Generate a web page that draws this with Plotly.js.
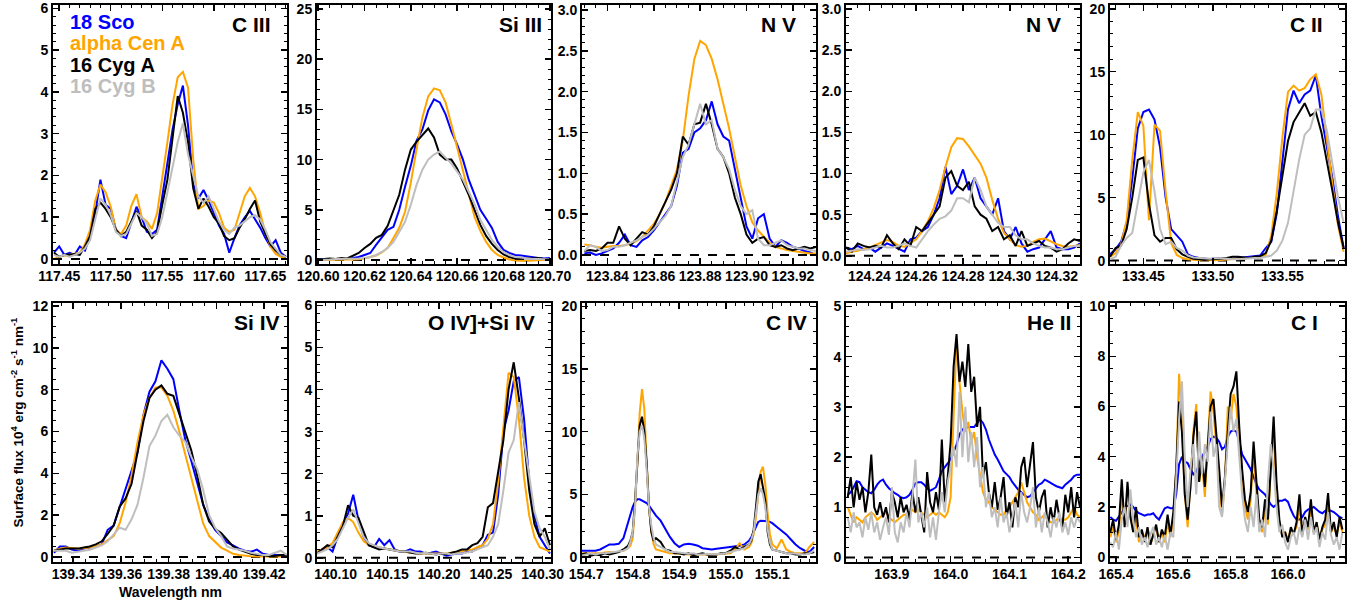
<!DOCTYPE html>
<html>
<head>
<meta charset="utf-8">
<script src="https://cdn.plot.ly/plotly-3.0.1.min.js"></script>
<style>html,body{margin:0;padding:0;background:#fff;}#chart{width:1363px;height:603px;}</style>
</head>
<body>
<div id="chart"></div>
<script>
// ---------------- series names and colours ----------------
const seriesNames = ['18 Sco', 'alpha Cen A', '16 Cyg A', '16 Cyg B'];
const seriesColors = ['#0000ff', '#ffa500', '#000000', '#bebebe'];
const lineLabels = ['C III', 'Si III', 'N V', 'N V', 'C II', 'Si IV', 'O IV]+Si IV', 'C IV', 'He II', 'C I'];

// ---------------- Panel 1: C III ----------------
const wl_CIII = [117.445,117.450,117.455,117.460,117.465,117.470,117.475,117.480,117.485,117.490,117.495,117.500,117.505,117.510,117.515,117.520,117.525,117.530,117.535,117.540,117.545,117.550,117.555,117.560,117.565,117.570,117.575,117.580,117.585,117.590,117.595,117.600,117.605,117.610,117.615,117.620,117.625,117.630,117.635,117.640,117.645,117.650,117.655,117.660,117.665,117.670];
const sco_CIII = [0.15,0.3,0.1,0.15,0.1,0.3,0.2,0.55,1.1,1.9,1.3,1.2,0.7,0.55,0.5,0.9,1.25,1.0,0.65,0.6,0.7,1.5,2.3,3.1,3.7,4.15,3.2,1.8,1.45,1.65,1.4,1.1,0.8,0.6,0.15,0.5,0.8,1.0,1.15,0.95,0.75,0.5,0.3,0.45,0.15,0.05];
const cen_CIII = [0.0,0.05,0.08,0.1,0.12,0.15,0.35,0.7,1.4,1.78,1.6,1.25,0.7,0.6,0.8,1.27,1.55,1.0,0.9,0.72,1.1,1.9,2.8,3.7,4.35,4.48,4.1,2.4,1.2,1.27,1.4,1.35,1.1,0.75,0.65,0.7,1.1,1.5,1.7,1.5,1.1,0.63,0.3,0.12,0.05,0.0];
const cygA_CIII = [0.15,0.05,0.1,0.1,0.12,0.1,0.3,0.55,1.2,1.35,1.2,1.0,0.7,0.55,0.65,0.9,1.15,0.8,0.7,0.5,0.65,1.3,1.9,2.9,3.9,3.5,2.8,1.7,1.2,1.45,1.25,1.0,0.85,0.55,0.45,0.5,0.75,0.95,1.2,1.4,0.9,0.6,0.35,0.2,0.1,0.05];
const cygB_CIII = [0.1,0.05,0.1,0.05,0.1,0.15,0.25,0.45,0.95,1.45,1.3,1.05,0.65,0.55,0.6,0.85,1.1,1.0,0.85,0.55,0.6,1.0,1.6,2.2,2.8,3.25,2.5,2.0,1.5,1.35,1.5,1.2,0.9,0.7,0.6,0.75,0.8,0.9,1.0,1.05,0.95,0.7,0.4,0.25,0.1,0.05];
const xt_CIII = [117.45,117.50,117.55,117.60,117.65];
const yt_CIII = [0,1,2,3,4,5,6];

// ---------------- Panel 2: Si III ----------------
const wl_SiIII = [120.6,120.6025,120.605,120.6075,120.61,120.6125,120.615,120.6175,120.62,120.6225,120.625,120.6275,120.63,120.6325,120.635,120.6375,120.64,120.6425,120.645,120.6475,120.65,120.6525,120.655,120.6575,120.66,120.6625,120.665,120.6675,120.67,120.6725,120.675,120.6775,120.68,120.6825,120.685,120.6875,120.69,120.6925,120.695,120.6975,120.7];
const sco_SiIII = [0.1,0.1,0.15,0.1,0.15,0.1,0.2,0.3,0.5,0.7,1.5,2.2,3.0,3.3,5.0,7.3,9.4,11.9,13.0,14.9,16.0,15.7,14.5,12.8,11.5,10.0,8.0,6.5,5.0,4.1,3.2,1.8,1.0,0.7,0.5,0.45,0.35,0.3,0.2,0.15,0.2];
const cen_SiIII = [0,0,0,0,0.02,0.03,0.05,0.08,0.15,0.3,0.45,0.75,1.2,2.2,3.2,4.8,7.7,11.1,14.2,16.3,17.1,16.9,15.7,13.5,11.2,8.7,6.3,4.3,2.9,1.8,1.0,0.5,0.25,0.05,-0.05,-0.1,-0.1,-0.05,0,0,0];
const cygA_SiIII = [0.05,0.1,0.15,0.1,0.2,0.15,0.4,0.7,1.2,1.6,2.2,2.5,3.4,5.0,6.5,9.0,11.0,11.8,12.5,13.1,12.2,10.5,10.0,10.0,9.1,7.8,6.5,5.0,3.5,2.4,1.6,1.0,0.55,0.3,0.15,0.15,0.2,0.15,0.2,0.1,0.05];
const cygB_SiIII = [0,0,0.05,0.1,0.1,0.15,0.1,0.15,0.2,0.3,0.5,0.8,1.2,1.8,2.8,3.8,5.5,7.5,9.0,10.0,10.5,10.8,10.2,9.6,8.8,8.0,6.8,5.6,4.0,3.0,2.0,1.3,0.8,0.5,0.3,0.25,0.15,0.1,0.1,0.05,0.05];
const xt_SiIII = [120.60,120.62,120.64,120.66,120.68,120.70];
const yt_SiIII = [0,5,10,15,20,25];

// ---------------- Panel 3: N V 123.88 ----------------
const wl_NV1 = [123.83,123.8325,123.835,123.8375,123.84,123.8425,123.845,123.8475,123.85,123.8525,123.855,123.8575,123.86,123.8625,123.865,123.8675,123.87,123.8725,123.875,123.8775,123.88,123.8825,123.885,123.8875,123.89,123.8925,123.895,123.8975,123.9,123.9025,123.905,123.9075,123.91,123.9125,123.915,123.9175,123.92,123.9225,123.925,123.9275,123.93];
const sco_NV1 = [0.02,0.03,0.0,0.02,0.05,0.08,0.15,0.25,0.12,0.1,0.18,0.22,0.3,0.4,0.5,0.6,0.85,1.25,1.3,1.5,1.55,1.65,1.88,1.6,1.45,1.4,1.05,0.7,0.35,0.2,0.45,0.5,0.2,0.1,0.18,0.15,0.1,0.08,0.05,0.03,0.0];
const cen_NV1 = [0.13,0.12,0.1,0.09,0.1,0.11,0.11,0.12,0.14,0.17,0.22,0.3,0.38,0.5,0.65,0.85,1.05,1.4,1.95,2.4,2.62,2.57,2.4,2.15,1.85,1.55,1.2,0.85,0.6,0.4,0.3,0.22,0.15,0.1,0.08,0.06,0.05,0.04,0.03,0.02,0.02];
const cygA_NV1 = [0.05,0.06,0.05,0.08,0.15,0.15,0.35,0.2,0.12,0.2,0.28,0.25,0.35,0.5,0.65,0.8,1.0,1.45,1.35,1.6,1.62,1.85,1.6,1.3,1.2,1.0,0.7,0.5,0.25,0.15,0.2,0.22,0.12,0.1,0.12,0.08,0.06,0.08,0.1,0.08,0.1];
const cygB_NV1 = [0.05,0.12,0.1,0.05,0.06,0.1,0.1,0.12,0.15,0.18,0.22,0.25,0.32,0.4,0.48,0.6,0.9,1.2,1.35,1.6,1.85,1.6,1.65,1.3,1.2,1.05,0.8,0.6,0.5,0.55,0.2,0.12,0.12,0.15,0.18,0.12,0.1,0.08,0.08,0.06,0.05];
const xt_NV1 = [123.84,123.86,123.88,123.90,123.92];
const yt_NV1 = [0,0.5,1,1.5,2,2.5,3];

// ---------------- Panel 4: N V 124.28 ----------------
const wl_NV2 = [124.23,124.2325,124.235,124.2375,124.24,124.2425,124.245,124.2475,124.25,124.2525,124.255,124.2575,124.26,124.2625,124.265,124.2675,124.27,124.2725,124.275,124.2775,124.28,124.2825,124.285,124.2875,124.29,124.2925,124.295,124.2975,124.3,124.3025,124.305,124.3075,124.31,124.3125,124.315,124.3175,124.32,124.3225,124.325,124.3275,124.33];
const sco_NV2 = [0.1,0.08,0.12,0.08,0.1,0.05,0.1,0.15,0.12,0.08,0.05,0.2,0.22,0.3,0.35,0.5,0.7,1.08,0.75,0.85,1.05,0.8,0.95,0.7,0.6,0.5,0.7,0.3,0.2,0.35,0.15,0.05,0.08,0.1,0.2,0.3,0.1,0.08,0.08,0.1,0.15];
const cen_NV2 = [0.03,0.05,0.06,0.08,0.1,0.13,0.16,0.19,0.17,0.12,0.11,0.15,0.2,0.3,0.42,0.58,0.8,1.08,1.32,1.43,1.42,1.33,1.23,1.12,0.95,0.68,0.45,0.28,0.2,0.13,0.11,0.12,0.17,0.2,0.21,0.17,0.14,0.12,0.11,0.12,0.13];
const cygA_NV2 = [0.1,0.05,0.15,0.12,0.1,0.12,0.1,0.25,0.15,0.08,0.2,0.12,0.35,0.3,0.4,0.5,0.6,0.95,1.03,0.85,0.8,0.9,0.6,0.5,0.45,0.3,0.35,0.2,0.25,0.12,0.3,0.12,0.15,0.18,0.12,0.1,0.05,0.08,0.15,0.2,0.18];
const cygB_NV2 = [0.05,0.06,0.08,0.07,0.08,0.1,0.12,0.1,0.1,0.12,0.15,0.12,0.1,0.2,0.3,0.38,0.45,0.48,0.55,0.7,0.7,0.65,0.95,0.8,0.6,0.5,0.4,0.35,0.35,0.25,0.2,0.2,0.15,0.12,0.1,0.1,0.08,0.08,0.1,0.12,0.12];
const xt_NV2 = [124.24,124.26,124.28,124.30,124.32];
const yt_NV2 = [0,0.5,1,1.5,2,2.5,3];

// ---------------- Panel 5: C II ----------------
const wl_CII = [133.426,133.430,133.434,133.438,133.442,133.446,133.450,133.454,133.458,133.462,133.466,133.470,133.474,133.478,133.482,133.486,133.490,133.494,133.498,133.502,133.506,133.510,133.514,133.518,133.522,133.526,133.530,133.534,133.538,133.542,133.546,133.550,133.554,133.558,133.562,133.566,133.570,133.574,133.578,133.582,133.586,133.590,133.594];
const sco_CII = [0.5,0.9,1.5,3.0,6.5,10.5,11.8,12.0,11.2,9.0,5.0,2.5,2.0,1.5,0.5,0.3,0.2,0.15,0.1,0.2,0.15,0.1,0.15,0.2,0.2,0.25,0.3,0.4,1.0,1.5,3.8,8.0,12.0,13.5,12.5,13.2,13.5,14.7,11.5,9.0,6.5,3.5,1.0];
const cen_CII = [0.3,0.6,1.3,3.2,8.0,11.8,10.7,3.2,10.8,10.3,5.5,1.4,0.45,0.2,0.1,0.05,0.03,0.02,0.02,0.03,0.05,0.08,0.1,0.12,0.15,0.2,0.25,0.3,0.45,2.0,5.4,9.8,13.4,13.9,13.5,13.7,14.4,14.8,13.2,9.5,6.0,2.8,0.7];
const cygA_CII = [0.3,1.0,1.2,2.5,5.0,8.0,8.2,4.5,2.0,1.5,1.8,1.8,0.9,0.5,0.3,0.15,0.1,0.05,0.1,0.1,0.15,0.2,0.3,0.3,0.25,0.2,0.3,0.35,0.6,1.6,4.0,6.8,9.5,11.0,11.8,12.5,11.5,11.8,10.2,8.0,5.5,3.0,1.0];
const cygB_CII = [0.1,0.3,1.2,1.8,2.2,4.5,7.0,8.0,5.5,2.5,1.3,1.5,1.0,0.8,0.4,0.25,0.2,0.2,0.15,0.2,0.15,0.1,0.1,0.1,0.15,0.15,0.2,0.2,0.3,0.4,0.8,1.6,3.0,5.5,8.0,10.0,10.5,12.0,12.0,10.3,7.5,5.0,3.0];
const xt_CII = [133.45,133.50,133.55];
const yt_CII = [0,5,10,15,20];

// ---------------- Panel 6: Si IV ----------------
const wl_SiIV = [139.332,139.3345,139.337,139.3395,139.342,139.3445,139.347,139.3495,139.352,139.3545,139.357,139.3595,139.362,139.3645,139.367,139.3695,139.372,139.3745,139.377,139.3795,139.382,139.3845,139.387,139.3895,139.392,139.3945,139.397,139.3995,139.402,139.4045,139.407,139.4095,139.412,139.4145,139.417,139.4195,139.422,139.4245,139.427,139.4295];
const sco_SiIV = [0.2,0.5,0.5,0.35,0.3,0.4,0.45,0.5,0.6,1.3,1.5,2.4,3.3,4.2,5.0,6.8,7.9,8.4,9.4,9.0,8.5,7.0,5.6,4.6,3.5,2.5,1.8,1.3,1.0,0.7,0.55,0.4,0.3,0.25,0.35,0.15,0.1,0.1,0.1,0.05];
const cen_SiIV = [0.3,0.4,0.45,0.42,0.4,0.42,0.45,0.5,0.6,0.8,1.0,1.6,2.6,3.9,5.5,6.8,7.6,8.1,8.1,7.7,7.0,6.0,4.9,3.8,2.6,1.6,1.0,0.7,0.45,0.3,0.15,0.1,0.05,0.03,0.02,0.02,0.02,0.02,0.02,0.02];
const cygA_SiIV = [0.3,0.35,0.4,0.4,0.4,0.45,0.5,0.6,0.75,1.1,1.5,2.4,2.8,3.5,5.0,6.5,7.6,8.0,8.2,7.8,7.7,6.8,6.0,5.1,3.9,2.5,1.7,1.35,1.15,0.8,0.5,0.35,0.25,0.15,0.1,0.1,0.05,0.05,0.1,0.1];
const cygB_SiIV = [0.3,0.3,0.3,0.2,0.25,0.3,0.35,0.45,0.55,0.75,1.1,1.4,1.3,1.8,2.5,3.8,5.3,5.8,6.5,6.8,6.2,5.8,5.5,4.8,4.2,3.2,2.0,1.4,1.0,0.5,0.4,0.35,0.3,0.2,0.15,0.1,0.1,0.2,0.3,0.1];
const xt_SiIV = [139.34,139.36,139.38,139.40,139.42];
const yt_SiIV = [0,2,4,6,8,10,12];

// ---------------- Panel 7: O IV] + Si IV ----------------
const wl_OIV = [140.082,140.087,140.092,140.097,140.102,140.107,140.112,140.117,140.122,140.127,140.132,140.137,140.142,140.147,140.152,140.157,140.162,140.167,140.172,140.177,140.182,140.187,140.192,140.197,140.202,140.207,140.212,140.217,140.222,140.227,140.232,140.237,140.242,140.247,140.252,140.257,140.262,140.267,140.272,140.277,140.282,140.287,140.292,140.297,140.302,140.307];
const sco_OIV = [0.1,0.2,0.25,0.15,0.5,0.8,1.05,1.5,0.9,0.5,0.3,0.25,0.45,0.3,0.42,0.2,0.15,0.15,0.2,0.15,0.15,0.1,0.12,0.15,0.1,0.05,0.08,0.1,0.1,0.15,0.15,0.25,0.3,0.55,0.6,1.5,3.0,3.5,4.2,4.3,3.3,1.8,1.0,0.5,0.3,0.1];
const cen_OIV = [0.15,0.2,0.25,0.35,0.6,0.85,0.95,0.85,0.6,0.4,0.3,0.28,0.25,0.22,0.2,0.18,0.15,0.14,0.12,0.12,0.1,0.1,0.1,0.1,0.1,0.1,0.12,0.14,0.15,0.18,0.2,0.25,0.3,0.45,0.8,1.8,3.2,4.4,4.3,3.3,1.9,1.0,0.5,0.25,0.2,0.15];
const cygA_OIV = [0.1,0.2,0.3,0.25,0.5,0.75,1.25,1.0,0.95,0.6,0.3,0.25,0.2,0.22,0.2,0.18,0.15,0.15,0.12,0.1,0.1,0.12,0.1,0.08,0.1,0.08,0.12,0.15,0.2,0.2,0.3,0.35,0.5,1.2,1.3,2.0,2.8,4.0,4.65,3.8,2.8,1.6,0.8,0.5,0.7,0.3];
const cygB_OIV = [0.1,0.15,0.2,0.3,0.45,0.7,0.95,1.15,0.8,0.5,0.35,0.3,0.25,0.22,0.2,0.18,0.15,0.15,0.15,0.12,0.1,0.12,0.1,0.08,0.1,0.1,0.08,0.1,0.1,0.12,0.15,0.2,0.25,0.3,0.5,0.8,1.6,2.5,2.8,3.7,2.8,2.0,1.1,0.7,0.5,0.2];
const xt_OIV = [140.10,140.15,140.20,140.25,140.30];
const yt_OIV = [0,1,2,3,4,5,6];

// ---------------- Panel 8: C IV ----------------
const wl_CIV = [154.69,154.70,154.71,154.72,154.73,154.74,154.75,154.76,154.77,154.78,154.79,154.795,154.80,154.805,154.81,154.815,154.82,154.825,154.83,154.835,154.84,154.845,154.85,154.86,154.87,154.88,154.89,154.90,154.91,154.92,154.93,154.94,154.95,154.96,154.97,154.98,154.99,155.00,155.01,155.02,155.03,155.04,155.05,155.055,155.06,155.065,155.07,155.075,155.08,155.085,155.09,155.095,155.10,155.11,155.12,155.13,155.14,155.15,155.16,155.17,155.18,155.19];
const sco_CIV = [0.5,0.5,0.45,0.5,0.6,0.8,1.0,1.0,1.05,1.5,2.8, 3.5,4.0,4.4,4.6,4.6,4.5,4.4,4.3,4.1,3.8,3.5,3.3, 2.9,2.2,1.6,1.1,0.8,1.0,1.05,1.0,0.9,0.7,0.65,0.6,0.65,0.7,0.75,0.8,0.8,0.9,1.0,1.3, 1.6,2.0,2.5,2.8,2.9,2.9,2.9,2.85,2.8,2.7, 2.4,2.1,1.8,1.4,1.0,0.7,0.5,0.4,0.8];
const cen_CIV = [0.3,0.3,0.25,0.3,0.3,0.35,0.4,0.35,0.4,0.5,0.7, 0.9,1.5,4.0,7.5,11.5,13.4,11.8,7.5,4.0,2.0,1.0,0.6, 0.5,0.4,0.3,0.3,0.25,0.2,0.2,0.2,0.2,0.15,0.2,0.2,0.2,0.25,0.3,0.3,0.6,1.1,0.6,0.8, 1.1,1.8,3.2,5.0,6.8,7.2,5.8,3.5,1.8,1.0, 0.7,1.4,0.6,0.4,0.3,0.3,0.3,0.8,1.2];
const cygA_CIV = [0.2,0.3,0.1,0.2,0.15,0.3,0.2,0.3,0.4,0.6,0.9, 1.3,2.0,4.5,8.0,10.5,11.2,10.0,7.5,4.0,2.0,1.3,1.5, 1.2,0.6,0.5,0.3,0.3,0.2,0.3,0.15,0.2,0.3,0.2,0.15,0.2,0.3,0.3,0.5,0.8,0.6,0.8,1.0, 1.3,2.2,4.0,6.0,6.6,5.5,4.5,2.0,1.0,0.6, 0.5,0.4,0.3,0.3,0.2,0.2,0.3,0.3,0.4];
const cygB_CIV = [0.1,0.2,0.3,0.2,0.3,0.3,0.35,0.4,0.4,0.5,0.7, 1.2,2.0,4.0,8.0,10.0,10.5,9.5,7.0,4.0,2.5,1.5,1.0, 0.8,0.6,0.4,0.4,0.35,0.3,0.25,0.3,0.2,0.2,0.25,0.2,0.2,0.25,0.3,0.4,0.5,0.6,0.7,1.0, 1.4,2.0,3.5,5.0,5.5,5.0,4.0,2.2,1.2,0.6, 0.5,0.4,0.3,0.3,0.25,0.2,0.2,0.3,0.5];
const xt_CIV = [154.7,154.8,154.9,155.0,155.1];
const yt_CIV = [0,5,10,15,20];

// ---------------- Panel 9: He II ----------------
const wl_HeII = [163.825,163.83,163.835,163.84,163.845,163.85,163.855,163.86,163.865,163.87,
  163.875,163.88,163.885,163.89,163.895,163.9,163.905,163.91,163.915,163.92,
  163.925,163.93,163.935,163.94,163.945,163.95,163.955,163.96,163.965,163.97,
  163.975,163.98,163.985,163.99,163.995,164.0,164.005,164.01,164.015,164.02,
  164.025,164.03,164.035,164.04,164.045,164.05,164.055,164.06,164.065,164.07,
  164.075,164.08,164.085,164.09,164.095,164.1,164.105,164.11,164.115,164.12,
  164.125,164.13,164.135,164.14,164.145,164.15,164.155,164.16,164.165,164.17,
  164.175,164.18,164.185,164.19,164.195,164.2,164.205,164.21,164.215,164.22];
const sco_HeII = [1.25,1.3,1.4,1.52,1.5,1.4,1.35,1.3,1.28,1.35,
  1.45,1.52,1.55,1.45,1.38,1.32,1.28,1.25,1.2,1.18,
  1.2,1.25,1.35,1.48,1.5,1.5,1.45,1.38,1.33,1.36,
  1.4,1.55,1.72,1.8,1.88,1.95,2.1,2.25,2.45,2.55,
  2.58,2.6,2.6,2.6,2.68,2.75,2.68,2.55,2.35,2.2,
  2.05,1.95,1.82,1.72,1.66,1.6,1.5,1.42,1.35,1.3,
  1.25,1.2,1.22,1.3,1.38,1.45,1.48,1.55,1.52,1.48,
  1.45,1.42,1.4,1.38,1.45,1.5,1.55,1.62,1.65,1.65];
const cen_HeII = [1.0,0.85,0.7,0.8,0.75,0.7,0.8,0.85,0.9,0.85,
  0.75,0.8,0.85,0.9,0.8,0.75,0.7,0.75,0.8,0.85,
  0.85,0.9,0.95,0.9,0.95,0.9,0.85,0.8,0.85,0.9,
  0.85,0.9,0.85,0.8,0.9,1.2,2.8,4.3,3.5,2.9,
  2.5,2.7,2.3,2.5,2.0,1.6,1.3,1.15,1.1,1.0,
  0.95,0.9,0.85,0.85,0.95,1.0,1.1,1.2,1.3,1.5,
  1.3,1.1,1.0,0.9,0.85,0.75,0.8,0.85,0.75,0.7,
  0.7,0.75,0.8,0.75,0.75,0.8,0.9,1.0,0.85,0.8];
const cygA_HeII = [1.2,1.6,1.0,1.5,1.15,1.4,0.9,1.3,2.05,1.0,
  0.85,1.1,0.8,1.0,0.7,1.3,1.1,0.8,1.2,0.9,
  1.05,0.75,1.3,0.9,1.2,0.8,0.5,1.7,1.1,0.9,
  1.3,0.95,2.35,1.1,1.6,2.3,3.8,4.45,3.5,3.9,
  3.4,4.25,3.3,3.6,2.6,3.0,1.6,1.9,1.3,1.0,
  1.5,0.95,1.2,1.6,0.8,1.1,0.6,1.2,1.0,1.8,
  2.0,1.4,1.9,2.3,1.2,0.9,1.2,1.35,0.6,1.0,
  0.7,1.15,0.8,0.6,1.25,0.9,1.4,0.8,1.3,1.0];
const cygB_HeII = [0.8,0.5,0.9,0.6,0.7,0.4,0.8,0.55,0.9,0.5,
  0.7,0.35,0.6,0.8,0.45,1.4,0.5,0.3,0.7,0.5,
  0.9,0.6,1.2,1.95,0.7,0.9,0.6,1.0,0.4,0.8,
  0.35,0.9,1.3,0.9,1.5,1.8,2.2,1.8,3.3,2.0,
  3.0,1.9,2.5,1.8,2.4,1.4,1.8,1.0,1.3,0.8,
  1.0,0.6,1.2,0.7,0.9,0.5,0.8,1.1,0.6,1.3,
  0.9,0.7,1.0,1.4,0.6,1.0,0.5,0.9,0.7,0.4,
  0.8,0.6,0.9,0.5,0.7,0.45,0.8,0.6,0.8,0.7];
const xt_HeII = [163.9,164.0,164.1,164.2];
const yt_HeII = [0,1,2,3,4,5];

// ---------------- Panel 10: C I ----------------
const wl_CI = [165.38,165.39,165.40,165.41,165.42,165.43,165.44,165.45,165.46,165.47,
  165.48,165.49,165.50,165.51,165.52,165.53,165.54,165.55,165.56,165.57,
  165.58,165.59,165.60,165.61,165.62,165.63,165.64,165.65,165.66,165.67,
  165.68,165.69,165.70,165.71,165.72,165.73,165.74,165.75,165.76,165.77,
  165.78,165.79,165.80,165.81,165.82,165.83,165.84,165.85,165.86,165.87,
  165.88,165.89,165.90,165.91,165.92,165.93,165.94,165.95,165.96,165.97,
  165.98,165.99,166.00,166.01,166.02,166.03,166.04,166.05,166.06,166.07,
  166.08,166.09,166.10,166.11,166.12,166.13,166.14,166.15,166.16,166.17,
  166.18,166.19];
const sco_CI = [1.6,1.5,1.45,1.6,1.8,1.95,2.05,2.1,2.0,1.85,
  1.75,1.7,1.65,1.7,1.7,1.75,1.6,1.5,1.7,1.95,
  2.0,1.95,1.95,2.5,3.7,4.0,3.8,3.75,3.5,3.3,
  3.4,3.7,4.0,4.2,4.4,4.7,4.8,4.75,4.6,4.3,
  4.4,4.8,5.0,5.05,5.0,4.6,4.1,3.9,3.7,3.5,
  3.2,2.9,2.7,2.6,2.5,2.3,2.1,2.0,2.1,2.25,
  2.25,2.3,2.2,1.9,1.65,1.5,1.5,1.6,1.8,1.9,
  1.95,2.0,1.9,1.8,1.75,1.85,1.9,1.85,1.8,1.7,
  1.6,1.55];
const cen_CI = [0.8,1.2,0.6,1.0,2.5,1.5,2.5,1.8,1.0,1.5,
  0.6,1.0,0.8,1.0,0.5,0.9,1.2,0.6,1.0,0.6,
  1.4,0.8,1.5,3.5,7.3,5.5,2.5,1.2,3.0,5.0,
  6.1,3.0,3.8,2.4,4.5,6.6,5.8,4.5,3.0,1.7,
  3.0,6.0,5.5,6.5,6.0,4.3,3.0,2.0,1.5,2.3,
  4.3,2.5,1.4,1.0,2.0,1.3,3.5,5.0,2.6,1.3,
  0.9,1.0,0.7,1.1,1.0,1.2,2.0,1.0,1.4,1.1,
  2.0,1.0,1.3,0.8,1.1,1.3,2.2,1.0,1.2,0.9,
  1.4,1.0];
const cygA_CI = [1.0,1.5,0.7,1.3,3.1,1.2,3.0,1.6,1.0,2.0,
  0.8,1.1,0.6,1.2,0.5,0.9,1.3,0.6,1.1,0.8,
  1.7,0.9,1.8,3.5,6.2,5.0,2.5,1.5,2.8,4.8,
  5.8,3.0,4.0,2.8,4.5,6.0,6.3,5.0,3.5,2.0,
  3.2,5.0,6.5,6.8,7.4,5.2,3.5,2.3,1.8,2.6,
  4.6,3.0,1.5,1.2,2.3,1.5,3.8,5.6,3.0,1.5,
  0.8,1.0,0.6,1.2,0.9,1.4,2.5,0.9,1.6,1.2,
  2.3,1.0,1.4,0.7,1.2,1.5,2.55,1.0,1.4,0.8,
  1.6,1.1];
const cygB_CI = [0.6,0.4,1.0,0.3,1.5,2.0,1.2,2.7,1.5,0.8,
  1.2,0.5,0.8,0.4,0.9,1.2,0.5,0.8,0.4,0.9,
  0.3,1.0,0.8,3.0,5.5,7.0,4.0,2.0,3.5,4.5,
  2.5,5.0,3.3,4.5,3.8,5.8,4.0,4.5,2.0,1.6,
  3.0,4.5,6.0,5.0,5.5,4.0,2.5,1.5,1.0,2.0,
  1.2,2.5,1.0,1.5,0.8,3.0,4.5,3.5,2.0,1.0,
  1.3,0.6,0.3,0.8,1.0,0.5,1.2,0.8,1.5,0.7,
  1.6,0.9,1.2,0.4,1.0,0.7,1.8,0.9,0.5,0.8,
  0.3,1.0];
const xt_CI = [165.4,165.6,165.8,166.0];
const yt_CI = [0,2,4,6,8,10];

// ---------------- assemble panels ----------------
const panelData = [
  {wl: wl_CIII, ys: [sco_CIII, cen_CIII, cygA_CIII, cygB_CIII], xt: xt_CIII, yt: yt_CIII},
  {wl: wl_SiIII, ys: [sco_SiIII, cen_SiIII, cygA_SiIII, cygB_SiIII], xt: xt_SiIII, yt: yt_SiIII},
  {wl: wl_NV1, ys: [sco_NV1, cen_NV1, cygA_NV1, cygB_NV1], xt: xt_NV1, yt: yt_NV1},
  {wl: wl_NV2, ys: [sco_NV2, cen_NV2, cygA_NV2, cygB_NV2], xt: xt_NV2, yt: yt_NV2},
  {wl: wl_CII, ys: [sco_CII, cen_CII, cygA_CII, cygB_CII], xt: xt_CII, yt: yt_CII},
  {wl: wl_SiIV, ys: [sco_SiIV, cen_SiIV, cygA_SiIV, cygB_SiIV], xt: xt_SiIV, yt: yt_SiIV},
  {wl: wl_OIV, ys: [sco_OIV, cen_OIV, cygA_OIV, cygB_OIV], xt: xt_OIV, yt: yt_OIV},
  {wl: wl_CIV, ys: [sco_CIV, cen_CIV, cygA_CIV, cygB_CIV], xt: xt_CIV, yt: yt_CIV},
  {wl: wl_HeII, ys: [sco_HeII, cen_HeII, cygA_HeII, cygB_HeII], xt: xt_HeII, yt: yt_HeII},
  {wl: wl_CI, ys: [sco_CI, cen_CI, cygA_CI, cygB_CI], xt: xt_CI, yt: yt_CI}
];

// layout / style settings for each panel (ranges, decimals, minor tick spacing, label placement)
const panelStyle = [
  {xr:[117.444,117.671], yr:[-0.12,6.08], xdec:2, ydec:0, xm:0.01,  ym:0.2, lx:0.94},
  {xr:[120.5995,120.7005], yr:[-0.4,25.4], xdec:2, ydec:0, xm:0.005, ym:1,   lx:0.97},
  {xr:[123.829,123.930], yr:[-0.11,3.06], xdec:2, ydec:1, xm:0.005, ym:0.1, lx:0.923},
  {xr:[124.230,124.330], yr:[-0.1,3.05],  xdec:2, ydec:1, xm:0.005, ym:0.1, lx:0.927},
  {xr:[133.426,133.595], yr:[-0.27,20.3], xdec:2, ydec:0, xm:0.01,  ym:1,   lx:0.915},
  {xr:[139.3316,139.4296], yr:[-0.24,12.14], xdec:2, ydec:0, xm:0.005, ym:0.5, lx:0.98},
  {xr:[140.082,140.308], yr:[-0.1,6.06],  xdec:2, ydec:0, xm:0.01,  ym:0.2, lx:0.94},
  {xr:[154.691,155.194], yr:[-0.4,20.27], xdec:1, ydec:0, xm:0.02,  ym:1,   lx:0.97},
  {xr:[163.822,164.220], yr:[-0.09,5.07], xdec:1, ydec:0, xm:0.02,  ym:0.2, lx:0.97},
  {xr:[165.379,166.199], yr:[-0.19,10.12], xdec:1, ydec:0, xm:0.05, ym:0.5, lx:0.893}
];

const W = 1363, H = 603;
const colLeft = [53, 317, 582, 846, 1110];
const colRight = [287, 551, 816, 1080, 1345];
const rowTop = [5, 303];
const rowBottom = [264, 562];

const FONT = 'Liberation Sans, Arial, Helvetica, sans-serif';
const traces = [];
const layout = {
  width: W, height: H,
  margin: {l: 0, r: 0, t: 0, b: 0},
  paper_bgcolor: '#ffffff', plot_bgcolor: '#ffffff',
  showlegend: false,
  font: {family: FONT, color: '#000000'},
  shapes: [], annotations: []
};

panelData.forEach((p, i) => {
  const st = panelStyle[i];
  const sfx = i === 0 ? '' : String(i + 1);
  const xa = 'x' + sfx, ya = 'y' + sfx;
  const col = i % 5, row = Math.floor(i / 5);
  p.ys.forEach((yv, k) => {
    traces.push({
      type: 'scatter', mode: 'lines', x: p.wl, y: yv,
      xaxis: xa, yaxis: ya, name: seriesNames[k],
      line: {color: seriesColors[k], width: 2}, hoverinfo: 'skip', cliponaxis: true
    });
  });
  const tickfont = {family: FONT, size: 14, color: '#000', weight: 'bold'};
  layout['xaxis' + sfx] = {
    domain: [colLeft[col] / W, colRight[col] / W], range: st.xr, anchor: ya,
    tickmode: 'array', tickvals: p.xt, ticktext: p.xt.map(v => v.toFixed(st.xdec)),
    ticks: 'inside', ticklen: 6, tickwidth: 1.5, tickcolor: '#000', ticklabelstandoff: -2,
    showline: true, linecolor: '#000', linewidth: 2, mirror: 'ticks',
    showgrid: false, zeroline: false, tickfont: tickfont, fixedrange: true,
    minor: {ticks: 'inside', ticklen: 3, tickwidth: 1, tickcolor: '#000', tickmode: 'linear', tick0: p.xt[0], dtick: st.xm, showgrid: false}
  };
  layout['yaxis' + sfx] = {
    domain: [1 - rowBottom[row] / H, 1 - rowTop[row] / H], range: st.yr, anchor: xa,
    tickmode: 'array', tickvals: p.yt, ticktext: p.yt.map(v => v.toFixed(st.ydec)),
    ticks: 'inside', ticklen: 6, tickwidth: 1.5, tickcolor: '#000',
    showline: true, linecolor: '#000', linewidth: 2, mirror: 'ticks',
    showgrid: false, zeroline: false, tickfont: tickfont, fixedrange: true,
    minor: {ticks: 'inside', ticklen: 3, tickwidth: 1, tickcolor: '#000', tickmode: 'linear', tick0: 0, dtick: st.ym, showgrid: false}
  };
  // dashed zero level
  layout.shapes.push({
    type: 'line', xref: xa + ' domain', yref: ya, x0: 0, x1: 1, y0: 0, y1: 0,
    line: {color: '#000', width: 2, dash: 'dash'}, layer: 'below'
  });
  // line label
  layout.annotations.push({
    xref: xa + ' domain', yref: ya + ' domain', x: st.lx, y: 0.975,
    xanchor: 'right', yanchor: 'top', showarrow: false, text: lineLabels[i],
    font: {family: FONT, size: 21, color: '#000', weight: 'bold'}
  });
});

// star names in the first panel
seriesNames.forEach((nm, k) => {
  layout.annotations.push({
    xref: 'x domain', yref: 'y domain', x: 0.062, y: 1 - (4 + 21.5 * k) / 259,
    xanchor: 'left', yanchor: 'top', showarrow: false, text: nm,
    font: {family: FONT, size: 20, color: seriesColors[k], weight: 'bold'}
  });
});

// axis titles
layout.annotations.push({
  xref: 'paper', yref: 'paper', x: 17.5 / W, y: 1 - 423 / H, xanchor: 'center', yanchor: 'middle',
  textangle: -90, showarrow: false,
  text: 'Surface flux 10<sup>4</sup> erg cm<sup>-2</sup> s<sup>-1</sup> nm<sup>-1</sup>',
  font: {family: FONT, size: 13.5, color: '#000', weight: 'bold'}
});
layout.annotations.push({
  xref: 'paper', yref: 'paper', x: 170 / W, y: 1 - 592 / H, xanchor: 'center', yanchor: 'middle',
  showarrow: false, text: 'Wavelength nm',
  font: {family: FONT, size: 14, color: '#000', weight: 'bold'}
});

Plotly.newPlot('chart', traces, layout, {staticPlot: true, displayModeBar: false});
</script>
</body>
</html>
